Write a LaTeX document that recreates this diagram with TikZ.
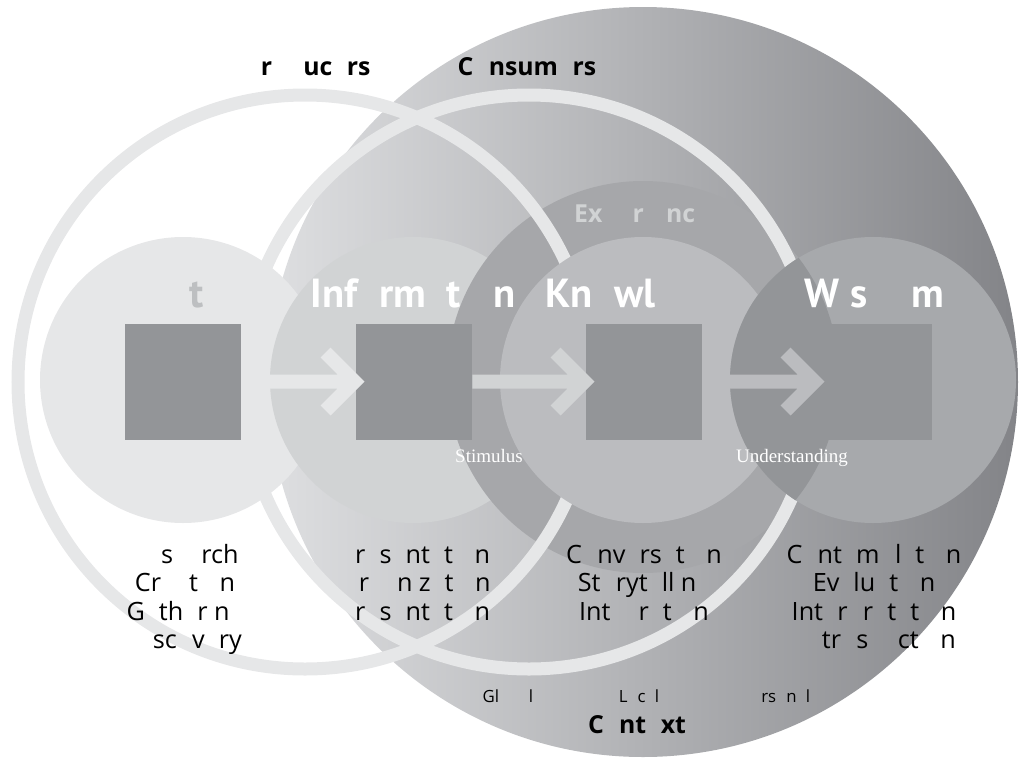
\documentclass[tikz,border=0pt]{standalone}
\usepackage{fontspec}
\setsansfont{Open Sans}
\setmainfont{Liberation Serif}
\newfontfamily\titlefont{PT Sans}
\usetikzlibrary{arrows.meta}

% greys of the discs and boxes
\definecolor{dataGray}{HTML}{E6E7E8}
\definecolor{infoGray}{HTML}{D1D3D4}
\definecolor{knowGray}{HTML}{BBBCBF}
\definecolor{wisGray}{HTML}{A7A9AC}
\definecolor{expGray}{HTML}{A6A7AA}
\definecolor{boxGray}{HTML}{939598}
\definecolor{ctxLeft}{HTML}{DEDFE1}
\definecolor{ctxRight}{HTML}{838488}
\definecolor{dataText}{HTML}{BDBFC1}

% a letter that leaves only its space
\newcommand{\hole}[1]{\phantom{#1}}

\begin{document}
\begin{tikzpicture}[x=0.5pt, y=-0.5pt,
    box/.style={fill=boxGray, minimum size=58pt, inner sep=0pt},
    flow/.style={draw=#1, line width=7pt, line join=miter},
    ring/.style={draw=dataGray, line width=6.5pt},
    title/.style={font=\titlefont\bfseries\fontsize{20.3}{21}\selectfont, text=white, anchor=base, inner sep=0pt},
    head/.style={font=\sffamily\bfseries\fontsize{12.4}{14}\selectfont, anchor=base, inner sep=0pt},
    list/.style={font=\sffamily\fontsize{12.6}{14.25}\selectfont, align=center, anchor=base, inner sep=0pt},
    reach/.style={font=\sffamily\fontsize{8.4}{10}\selectfont, anchor=base, inner sep=0pt},
    verb/.style={font=\rmfamily\fontsize{9.5}{10}\selectfont, text=white, anchor=base, inner sep=0pt}]
		\useasboundingbox (0,0) rectangle (1024,761);
		
		% Context: big shaded disc
		\shade[left color=ctxLeft, right color=ctxRight] (643,382) circle (375);
		
		% Data, information and experience discs
		\fill[dataGray] (183,380) circle (143);
		\fill[infoGray] (413,380) circle (143);
		\fill[expGray] (643,377) circle (196);
		
		% Producer and consumer rings
		\draw[ring] (305,382) circle (287);
		\draw[ring] (529,382) circle (287);
		
		% Knowledge and wisdom discs
		\fill[knowGray] (643,380) circle (143);
		\fill[wisGray] (873,380) circle (143);
		\begin{scope}
			\clip (873,380) circle (143);
			\fill[boxGray] (643,377) circle (196);
		\end{scope}
		
		% Boxes
		\foreach \name/\x in {dsq/183, isq/414, ksq/644, wsq/874}
			\node[box] (\name) at (\x,381.5) {};
		
		% Arrows between boxes
		\foreach \from/\to/\col in {dsq/isq/dataGray, isq/ksq/infoGray, ksq/wsq/knowGray}
			\draw[flow=\col] (\from) -- (\to.west) ++(-30,-29) -- ++(29,29) -- ++(-29,29);
		
		% Titles
		\node[title, text=dataText] (dataT) at (183,307) {\hole{D}\hole{a}t\hole{a}};
		\node[title] (infoT) at (413,307) {Inf\hole{o}rm\hole{a}t\hole{io}n};
		\node[title] (knowT) at (643,307) {Kn\hole{o}wl\hole{edge}};
		\node[title] (wisT) at (874,307) {W\hole{i}s\hole{do}m};
		\node[head, text=infoGray] (expT) at (642,222) {Ex\hole{pe}r\hole{ie}nc\hole{e}};
		\node[head] (prodT) at (308,75) {\hole{P}r\hole{od}uc\hole{e}rs};
		\node[head] (consT) at (527,75) {C\hole{o}nsum\hole{e}rs};
		
		% Lists under the discs (placed by their last line)
		\node[list] (dataL) at (185,648.5) {\hole{Re}s\hole{ea}rch\\ Cr\hole{ea}t\hole{io}n\\ G\hole{a}th\hole{e}r\hole{i}n\hole{g}\\ \hole{Di}sc\hole{o}v\hole{e}ry};
		\node[list] (infoL) at (415,620) {\hole{P}r\hole{e}s\hole{e}nt\hole{a}t\hole{io}n\\ \hole{O}r\hole{ga}n\hole{i}z\hole{a}t\hole{io}n\\ \hole{P}r\hole{e}s\hole{e}nt\hole{a}t\hole{io}n};
		\node[list] (knowL) at (644,620) {C\hole{o}nv\hole{e}rs\hole{a}t\hole{io}n\\ St\hole{o}ryt\hole{e}ll\hole{i}n\hole{g}\\ Int\hole{eg}r\hole{a}t\hole{io}n};
		\node[list] (wisL) at (874,648.5) {C\hole{o}nt\hole{e}m\hole{p}l\hole{a}t\hole{io}n\\ Ev\hole{a}lu\hole{a}t\hole{io}n\\ Int\hole{e}r\hole{p}r\hole{e}t\hole{a}t\hole{io}n\\ \hole{Re}tr\hole{o}s\hole{pe}ct\hole{io}n};
		
		% Stimulus and understanding
		\node[verb] (stim) at (489,462) {Stimulus};
		\node[verb] (und) at (792,462) {Understanding};
		
		% Context reach
		\node[reach] (glob) at (508,702) {Gl\hole{oba}l};
		\node[reach] (loc) at (639,702) {L\hole{o}c\hole{a}l};
		\node[reach] (pers) at (776,702) {\hole{Pe}rs\hole{o}n\hole{a}l};
		\node[head] (ctxT) at (637,733) {C\hole{o}nt\hole{e}xt};
		
	\end{tikzpicture}
\end{document}
